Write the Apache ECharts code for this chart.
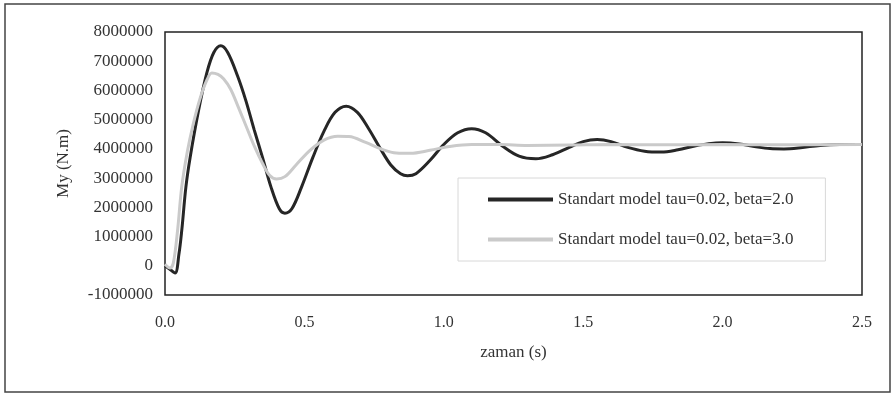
<!DOCTYPE html>
<html>
<head>
<meta charset="utf-8">
<script src="https://cdn.jsdelivr.net/npm/echarts@6/dist/echarts.min.js"></script>
<style>
  html, body { margin: 0; padding: 0; background: #fff; }
  #chart { width: 894px; height: 395px; }
</style>
</head>
<body>
<div id="chart"></div>
<script>
// zaman (s), My in N.m
var beta2Time = [0, 0.015, 0.036, 0.05, 0.06, 0.075, 0.09, 0.12, 0.15, 0.175, 0.2, 0.225, 0.26, 0.29, 0.32, 0.35, 0.38, 0.41, 0.43, 0.455, 0.49, 0.53, 0.57, 0.61, 0.65, 0.69, 0.73, 0.77, 0.81, 0.845, 0.87, 0.9, 0.95, 1.0, 1.05, 1.1, 1.15, 1.21, 1.27, 1.33, 1.39, 1.45, 1.5, 1.55, 1.6, 1.66, 1.72, 1.78, 1.84, 1.9, 1.95, 2.0, 2.06, 2.12, 2.17, 2.22, 2.28, 2.35, 2.42, 2.5];
var beta2My = [0, -100000, -250000, 400000, 1200000, 2700000, 3700000, 5300000, 6600000, 7300000, 7530000, 7300000, 6500000, 5650000, 4650000, 3700000, 2700000, 1950000, 1800000, 1950000, 2700000, 3700000, 4600000, 5250000, 5460000, 5250000, 4700000, 4050000, 3450000, 3150000, 3080000, 3150000, 3600000, 4150000, 4550000, 4690000, 4550000, 4100000, 3750000, 3660000, 3800000, 4050000, 4250000, 4320000, 4250000, 4050000, 3920000, 3890000, 3970000, 4100000, 4180000, 4210000, 4170000, 4070000, 4010000, 4000000, 4040000, 4120000, 4150000, 4150000];

var beta3Time = [0, 0.018, 0.03, 0.045, 0.06, 0.08, 0.1, 0.125, 0.15, 0.168, 0.19, 0.21, 0.235, 0.26, 0.29, 0.32, 0.35, 0.375, 0.4, 0.43, 0.47, 0.52, 0.57, 0.62, 0.66, 0.72, 0.78, 0.83, 0.88, 0.95, 1.02, 1.1, 1.2, 1.3, 1.45, 1.6, 1.8, 2.0, 2.2, 2.5];
var beta3My = [50000, -80000, 100000, 1200000, 2700000, 3900000, 4800000, 5700000, 6350000, 6600000, 6550000, 6400000, 6050000, 5500000, 4800000, 4100000, 3500000, 3100000, 2970000, 3050000, 3450000, 3950000, 4300000, 4430000, 4420000, 4220000, 3980000, 3860000, 3850000, 3950000, 4080000, 4150000, 4150000, 4120000, 4130000, 4150000, 4140000, 4150000, 4140000, 4150000];

var xTicks = [0, 0.5, 1.0, 1.5, 2.0, 2.5];
var yTicks = [-1000000, 0, 1000000, 2000000, 3000000, 4000000, 5000000, 6000000, 7000000, 8000000];

var seriesNames = ['Standart model tau=0.02, beta=2.0', 'Standart model tau=0.02, beta=3.0'];

function pairs(xs, ys) {
  return xs.map(function (x, i) { return [x, ys[i]]; });
}

var chart = echarts.init(document.getElementById('chart'));
var font = 'Liberation Serif';
var option = {
  animation: false,
  textStyle: { fontFamily: font },
  graphic: [{
    type: 'rect',
    shape: { x: 5, y: 4, width: 885, height: 388 },
    style: { fill: 'none', stroke: '#444', lineWidth: 1.5 },
    silent: true
  }],
  grid: {
    left: 165, top: 32, right: 32, bottom: 100,
    show: true, borderColor: '#222', borderWidth: 1.5,
    containLabel: false
  },
  legend: {
    orient: 'vertical',
    left: 458, top: 178,
    padding: [13, 32, 13, 30],
    itemGap: 23,
    itemWidth: 65, itemHeight: 4,
    icon: 'rect',
    backgroundColor: '#fff',
    borderColor: '#d8d8d8', borderWidth: 1,
    textStyle: { fontFamily: font, fontSize: 17, color: '#333' },
    data: seriesNames
  },
  xAxis: {
    type: 'value',
    min: xTicks[0], max: xTicks[xTicks.length - 1], interval: 0.5,
    name: 'zaman (s)', nameLocation: 'middle', nameGap: 49,
    nameTextStyle: { fontFamily: font, fontSize: 17, color: '#333' },
    axisLine: { show: false },
    axisTick: { show: false },
    splitLine: { show: false },
    axisLabel: {
      margin: 20, fontFamily: font, fontSize: 16, color: '#333',
      formatter: function (v) { return v.toFixed(1); }
    }
  },
  yAxis: {
    type: 'value',
    min: yTicks[0], max: yTicks[yTicks.length - 1], interval: 1000000,
    name: 'My (N.m)', nameLocation: 'middle', nameGap: 93,
    nameTextStyle: { fontFamily: font, fontSize: 17, color: '#333' },
    axisLine: { show: false },
    axisTick: { show: false },
    splitLine: { show: false },
    axisLabel: {
      margin: 12, fontFamily: font, fontSize: 17, color: '#333',
      formatter: function (v) { return String(v); }
    }
  },
  series: [{
    name: seriesNames[0],
    type: 'line',
    data: pairs(beta2Time, beta2My),
    smooth: 0.35,
    showSymbol: false,
    lineStyle: { color: '#262626', width: 3 },
    itemStyle: { color: '#262626' }
  }, {
    name: seriesNames[1],
    type: 'line',
    data: pairs(beta3Time, beta3My),
    smooth: 0.35,
    showSymbol: false,
    lineStyle: { color: '#cacaca', width: 3 },
    itemStyle: { color: '#cacaca' }
  }]
};
chart.setOption(option);
</script>
</body>
</html>
